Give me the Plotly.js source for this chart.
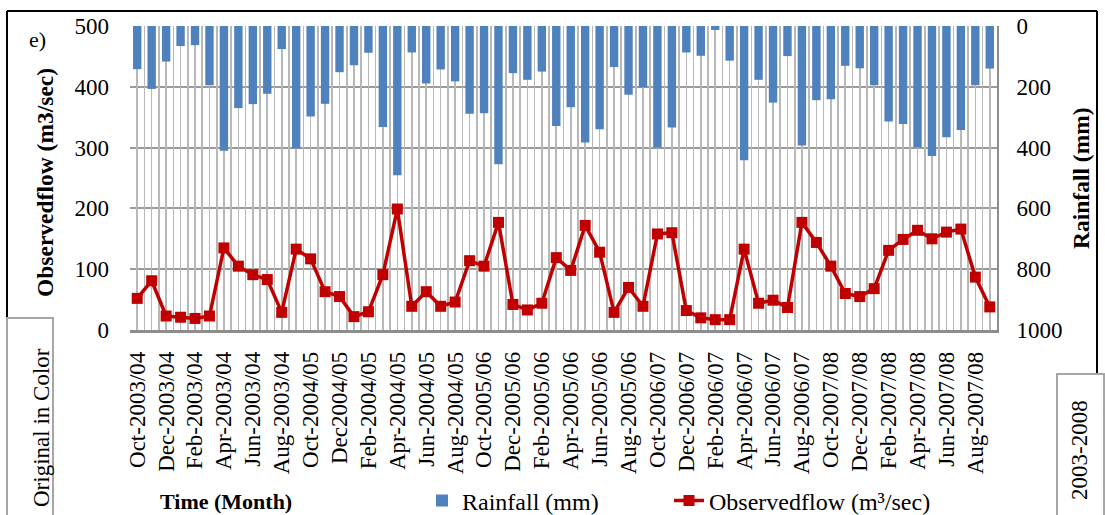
<!DOCTYPE html>
<html>
<head>
<meta charset="utf-8">
<script src="https://cdn.plot.ly/plotly-3.0.1.min.js"></script>
<style>html,body{margin:0;padding:0;background:#fff;}#chart{width:1105px;height:515px;}</style>
</head>
<body>
<div id="chart"></div>
<script>
// ---- data ----
const categories = [
  "Oct-2003/04","Nov-2003/04","Dec-2003/04","Jan-2003/04","Feb-2003/04","Mar-2003/04",
  "Apr-2003/04","May-2003/04","Jun-2003/04","Jul-2003/04","Aug-2003/04","Sep-2003/04",
  "Oct-2004/05","Nov-2004/05","Dec2004/05","Jan-2004/05","Feb-2004/05","Mar-2004/05",
  "Apr-2004/05","May-2004/05","Jun-2004/05","Jul-2004/05","Aug-2004/05","Sep-2004/05",
  "Oct-2005/06","Nov-2005/06","Dec-2005/06","Jan-2005/06","Feb-2005/06","Mar-2005/06",
  "Apr-2005/06","May-2005/06","Jun-2005/06","Jul-2005/06","Aug-2005/06","Sep-2005/06",
  "Oct-2006/07","Nov-2006/07","Dec-2006/07","Jan-2006/07","Feb-2006/07","Mar-2006/07",
  "Apr-2006/07","May-2006/07","Jun-2006/07","Jul-2006/07","Aug-2006/07","Sep-2006/07",
  "Oct-2007/08","Nov-2007/08","Dec-2007/08","Jan-2007/08","Feb-2007/08","Mar-2007/08",
  "Apr-2007/08","May-2007/08","Jun-2007/08","Jul-2007/08","Aug-2007/08","Sep-2007/08"
];
const rainfall = [
  142,207,117,66,63,195,410,270,257,223,76,403,298,256,152,129,88,332,491,87,
  189,143,182,289,287,455,155,177,150,329,267,383,340,135,226,202,400,334,87,98,
  13,114,442,177,252,99,393,244,241,131,139,195,314,322,399,428,366,342,195,140
];
const observedflow = [
  52,81,23,21,19,23,135,105,91,83,29,133,117,63,55,22,30,91,199,39,
  63,39,46,114,105,177,42,33,44,119,98,172,128,29,70,39,158,160,32,20,
  17,17,133,44,49,37,177,144,105,60,55,68,131,149,164,150,161,166,87,38
];
const tickLabels = categories.filter((c, i) => i % 2 === 0);
const flowTicks = [0, 100, 200, 300, 400, 500];
const rainTicks = [0, 200, 400, 600, 800, 1000];

// ---- layout helpers (pixel -> paper) ----
const W = 1105, H = 515;
const M = {l: 130, r: 108, t: 26, b: 185, autoexpand: false};
const PW = W - M.l - M.r, PH = H - M.t - M.b;
const px = v => (v - M.l) / PW;
const py = v => (H - M.b - v) / PH;
const FONT = "Liberation Serif, Times New Roman, serif";

const traces = [
  {
    type: 'bar', name: 'Rainfall (mm)', x: categories, y: rainfall,
    xaxis: 'x', yaxis: 'y2', legend: 'legend',
    marker: {color: '#4f81bd', line: {width: 0}}
  },
  {
    type: 'scatter', mode: 'lines+markers', name: 'Observedflow (m³/sec)',
    x: categories, y: observedflow, xaxis: 'x', yaxis: 'y', legend: 'legend2',
    line: {color: '#c00000', width: 3.5},
    marker: {symbol: 'square', size: 11, color: '#c00000'}
  },
  { // carrier for the fine vertical grid axis
    type: 'scatter', x: [], y: [], xaxis: 'x2', yaxis: 'y',
    showlegend: false, hoverinfo: 'skip'
  }
];

function note(text, x, y, size, angle) {
  return {text: text, xref: 'paper', yref: 'paper', x: px(x), y: py(y),
          xanchor: 'center', yanchor: 'middle', textangle: angle || 0,
          showarrow: false, font: {family: FONT, size: size, color: '#000'}};
}

const layout = {
  width: W, height: H,
  margin: M,
  paper_bgcolor: '#ffffff', plot_bgcolor: '#ffffff',
  font: {family: FONT, size: 22, color: '#000'},
  bargap: 0.42,
  showlegend: true,
  xaxis: {
    type: 'category', range: [-0.5, categories.length - 0.5], automargin: false,
    tickmode: 'array', tickvals: tickLabels, ticktext: tickLabels,
    tickangle: -90, tickfont: {family: FONT, size: 23, color: '#000'},
    ticks: '', ticklabelstandoff: 10,
    showgrid: false, zeroline: false,
    showline: true, linecolor: '#8c8c8c', linewidth: 2.5
  },
  xaxis2: {
    type: 'linear', overlaying: 'x', anchor: 'y', automargin: false,
    range: [-0.5, categories.length - 0.5], tick0: -0.5, dtick: 0.5,
    showgrid: true, gridcolor: '#b8b8b8', gridwidth: 1.6,
    showticklabels: false, ticks: '', zeroline: false, showline: false
  },
  yaxis: {
    range: [0, 500], tickmode: 'array', tickvals: flowTicks, automargin: false,
    ticks: '', ticklabelstandoff: 20,
    tickfont: {family: FONT, size: 23, color: '#000'},
    showgrid: true, gridcolor: '#9a9a9a', gridwidth: 2,
    zeroline: false, showline: false
  },
  yaxis2: {
    overlaying: 'y', side: 'right', anchor: 'x', automargin: false,
    range: [1000, 0], tickmode: 'array', tickvals: rainTicks,
    ticks: '', ticklabelstandoff: 13,
    tickfont: {family: FONT, size: 23, color: '#000'},
    showgrid: false, zeroline: false,
    showline: true, linecolor: '#8c8c8c', linewidth: 2
  },
  legend: {
    orientation: 'h', x: px(422), xanchor: 'left', y: py(501), yanchor: 'middle',
    font: {family: FONT, size: 24, color: '#000'}, bgcolor: 'rgba(0,0,0,0)'
  },
  legend2: {
    orientation: 'h', x: px(669), xanchor: 'left', y: py(501), yanchor: 'middle',
    font: {family: FONT, size: 24, color: '#000'}, bgcolor: 'rgba(0,0,0,0)'
  },
  shapes: [
    // outer frame
    {type: 'line', xref: 'paper', yref: 'paper', x0: px(7), x1: px(1097), y0: py(11), y1: py(11), line: {color: '#000', width: 2}},
    {type: 'line', xref: 'paper', yref: 'paper', x0: px(7), x1: px(7), y0: py(11), y1: py(318), line: {color: '#000', width: 2}},
    {type: 'line', xref: 'paper', yref: 'paper', x0: px(1097), x1: px(1097), y0: py(11), y1: py(374), line: {color: '#000', width: 2}},
    // side boxes
    {type: 'rect', xref: 'paper', yref: 'paper', x0: px(7), x1: px(53), y0: py(318), y1: py(530), line: {color: '#a6a6a6', width: 2}, fillcolor: 'rgba(0,0,0,0)'},
    {type: 'rect', xref: 'paper', yref: 'paper', x0: px(1057), x1: px(1104), y0: py(374), y1: py(530), line: {color: '#a6a6a6', width: 2}, fillcolor: 'rgba(0,0,0,0)'}
  ],
  annotations: [
    note('e)', 37, 40, 22),
    note('<b>Observedflow (m3/sec)</b>', 45, 183, 23.5, -90),
    note('<b>Rainfall (mm)</b>', 1081, 178, 23.5, -90),
    note('<b>Time (Month)</b>', 226, 501, 22),
    note('Original in Color', 41, 428, 23, -90),
    note('2003-2008', 1079, 450, 23, -90)
  ]
};

Plotly.newPlot('chart', traces, layout, {displayModeBar: false, staticPlot: true});
</script>
</body>
</html>
